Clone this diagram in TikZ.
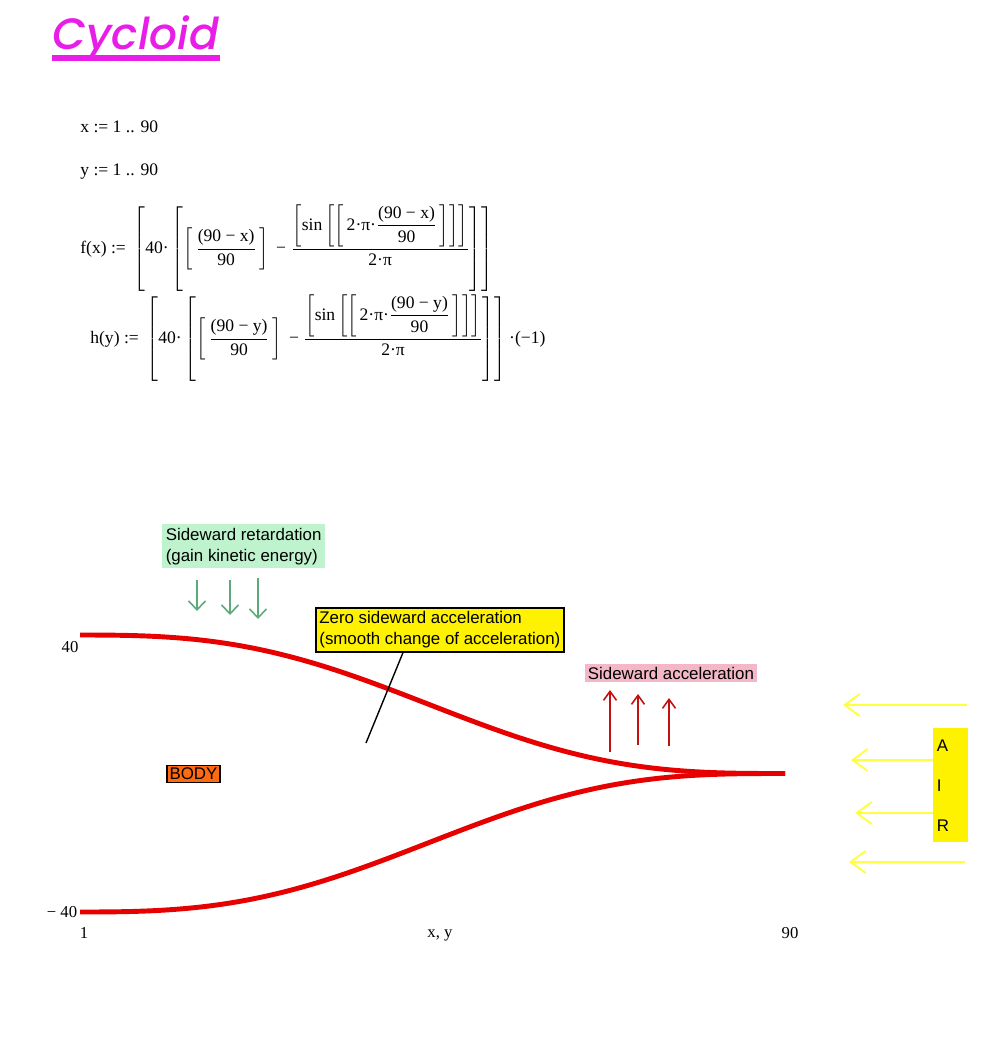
\documentclass[tikz,border=0pt]{standalone}
\usepackage{amsmath}
\usepackage{fontspec}
\setmainfont{Liberation Serif}
\setsansfont{Liberation Sans}
\newfontfamily\titlefont{Poppins Medium Italic}
\usetikzlibrary{arrows.meta,positioning}
\definecolor{magtitle}{HTML}{E81EE8}
\definecolor{cycred}{HTML}{E60000}
\definecolor{darkred}{HTML}{C41010}
\definecolor{leafgreen}{HTML}{5CAA7A}
\definecolor{mint}{HTML}{BFF3CD}
\definecolor{rose}{HTML}{F3B7C8}
\definecolor{airyellow}{HTML}{FFFF40}
\definecolor{bodyorange}{HTML}{FF6A10}

\begin{document}
\begin{tikzpicture}[x=0.02cm,y=-0.02cm,
  mtext/.style={font=\fontsize{10}{12}\selectfont,inner sep=0pt,anchor=west},
  ticklbl/.style={font=\fontsize{9.5}{11}\selectfont,inner sep=0pt},
  note/.style={font=\sffamily\fontsize{9.6}{12}\selectfont,inner sep=2pt,align=left,anchor=north west},
  cyc/.style={cycred,line width=2.8pt},
  dnarr/.style={-{Straight Barb[length=1.8mm,width=3.4mm]},leafgreen,line width=0.9pt},
  uparr/.style={-{Straight Barb[length=1.8mm,width=2.6mm]},darkred,line width=0.9pt},
  airarr/.style={-{Straight Barb[length=3mm,width=4.4mm]},airyellow,line width=1.1pt}]
\useasboundingbox (0,0) rectangle (1000,1040);

% title
\node[font=\titlefont\fontsize{25}{29}\selectfont,text=magtitle,inner sep=0pt,anchor=base west] (title) at (52,50) {Cycloid};
\draw[magtitle,line width=3pt] (title.west |- 0,58) -- (title.east |- 0,58);

% definitions
\node[mtext] (xdef) at (80,127) {x := 1 .. 90};
\node[mtext] (ydef) at (80,172) {y := 1 .. 90};
\node[mtext] (fdef) at (80,248) {$\text{f(x) :=}\;\left[\text{40·}\left[\left[\,\dfrac{\text{(90 − x)}}{\text{90}}\,\right]\text{ − }\dfrac{\left[\text{sin}\left[\left[\,\text{2·π·}\dfrac{\text{(90 − x)}}{\text{90}}\,\right]\right]\right]}{\text{2·π}}\right]\right]$};
\node[mtext] (hdef) at (90,338) {$\text{h(y) :=}\;\left[\text{40·}\left[\left[\,\dfrac{\text{(90 − y)}}{\text{90}}\,\right]\text{ − }\dfrac{\left[\text{sin}\left[\left[\,\text{2·π·}\dfrac{\text{(90 − y)}}{\text{90}}\,\right]\right]\right]}{\text{2·π}}\right]\right]\text{·(−1)}$};

% the two branches f and h
\draw[cyc] plot[domain=1:90,samples=120] ({80+(\x-1)/89*705},{773.5-138.5*((90-\x)/90-sin(4*(90-\x))/(2*pi))});
\draw[cyc] plot[domain=1:90,samples=120] ({80+(\x-1)/89*705},{773.5+138.5*((90-\x)/90-sin(4*(90-\x))/(2*pi))});

% axis labels
\node[ticklbl] (ytop) at (70,647) {40};
\node[ticklbl] (ybot) at (62,912) {− 40};
\node[ticklbl] (xmin) at (84,933) {1};
\node[ticklbl] (xname) at (440,935) {x, y};
\node[ticklbl] (xmax) at (790,933) {90};

% notes
\node[note,fill=mint] (retard) at (162,524) {Sideward retardation\\(gain kinetic energy)};
\foreach \ax/\ay/\by in {197/580/611,230/580/615,258/578/619}
  \draw[dnarr] (\ax,\ay) -- (\ax,\by);

\node[note,fill=yellow,draw=black,line width=1pt] (zero) at (315,607) {Zero sideward acceleration\\(smooth change of acceleration)};
\coordinate (inflect) at (366,743);
\draw[black,line width=0.8pt] (zero.south west -| 403,0) -- (inflect);

\node[note,fill=rose,inner sep=1.5pt] (accel) at (585,664) {Sideward acceleration};
\foreach \ax/\ay/\by in {610/752/690,638/745/694,669/746/698}
  \draw[uparr] (\ax,\ay) -- (\ax,\by);

\node[note,fill=bodyorange,draw=black,line width=1pt,inner sep=1.5pt,anchor=west] (body) at (166,774) {BODY};

% air
\node[note,fill=yellow,text width=0.56cm,minimum height=2.28cm,inner sep=2pt] (air) at (933,728) {A\\[0.38cm]I\\[0.38cm]R};
\draw[airarr] (967,705) -- (843,705);
\draw[airarr] (air.west |- 0,760) -- (851,760);
\draw[airarr] (air.west |- 0,813) -- (855,813);
\draw[airarr] (965,862) -- (849,862);
\end{tikzpicture}
\end{document}
